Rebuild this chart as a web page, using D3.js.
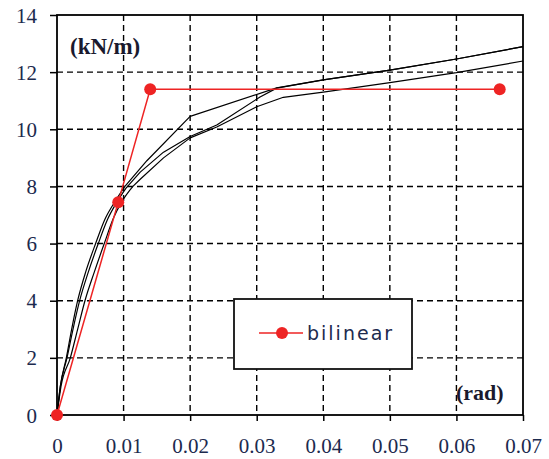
<!DOCTYPE html>
<html>
<head>
<meta charset="utf-8">
<script src="https://cdn.jsdelivr.net/npm/d3@7/dist/d3.min.js"></script>
<style>
html,body{margin:0;padding:0;background:#fff;}
svg{display:block;}
</style>
</head>
<body>
<div id="chart"></div>
<script>
// ---- data ----
const xTicks = [0, 0.01, 0.02, 0.03, 0.04, 0.05, 0.06, 0.07];
const xTickLabels = ["0", "0.01", "0.02", "0.03", "0.04", "0.05", "0.06", "0.07"];
const yTicks = [0, 2, 4, 6, 8, 10, 12, 14];
const yTickLabels = ["0", "2", "4", "6", "8", "10", "12", "14"];

const curveA = [[0,0],[0.0005,1],[0.0014,2],[0.0022,3],[0.0031,4],[0.0043,5],[0.0058,6],[0.0072,6.85],[0.0088,7.5],[0.0102,8.0],[0.0135,8.9],[0.02,10.45],[0.033,11.45],[0.04,11.73],[0.05,12.07],[0.06,12.46],[0.07,12.89]];
const curveB = [[0,0],[0.0005,1],[0.0015,2],[0.0024,3],[0.0034,4],[0.0047,5],[0.0062,6],[0.0076,6.85],[0.009,7.45],[0.0104,7.95],[0.0125,8.5],[0.016,9.2],[0.02,9.75],[0.024,10.15],[0.0305,11.13],[0.033,11.44],[0.04,11.73],[0.05,12.07],[0.06,12.46],[0.07,12.89]];
const curveC = [[0,0],[0.0006,1],[0.002,2],[0.0031,3],[0.0042,4],[0.0056,5],[0.0071,6],[0.0085,6.9],[0.0097,7.45],[0.0114,8.0],[0.0125,8.25],[0.016,9.0],[0.02,9.7],[0.024,10.08],[0.03,10.79],[0.034,11.12],[0.04,11.3],[0.05,11.63],[0.06,11.98],[0.07,12.39]];
const bilinear = [[0,0],[0.0092,7.45],[0.0140,11.4],[0.0665,11.4]];
const legendLabel = "bilinear";
const xUnit = "(rad)";
const yUnit = "(kN/m)";

// ---- layout ----
const W = 549, H = 459;
const m = {left:57, right:26, top:15, bottom:44};
const pw = W - m.left - m.right, ph = H - m.top - m.bottom;
const textColor = "#1c2a4e";
const smoothLimit = 0.0115; // curves are drawn smooth up to about this drift, straight after

const svg = d3.select("#chart").append("svg").attr("width", W).attr("height", H);
const g = svg.append("g").attr("transform", `translate(${m.left},${m.top})`);

const x = d3.scaleLinear().domain([0, 0.07]).range([0, pw]);
const y = d3.scaleLinear().domain([0, 14]).range([ph, 0]);

// grid
g.append("g").selectAll("line").data(xTicks.slice(1, -1)).join("line")
  .attr("x1", d => x(d)).attr("x2", d => x(d)).attr("y1", 0).attr("y2", ph)
  .attr("stroke", "#000").attr("stroke-width", 1.4).attr("stroke-dasharray", "6,4");
g.append("g").selectAll("line").data(yTicks.slice(1, -1)).join("line")
  .attr("x1", 0).attr("x2", pw).attr("y1", d => y(d)).attr("y2", d => y(d))
  .attr("stroke", "#000").attr("stroke-width", 1.4).attr("stroke-dasharray", "6,4");

// axes
const xAxis = d3.axisBottom(x).tickValues(xTicks).tickSize(6).tickFormat((d, i) => xTickLabels[i]);
const yAxis = d3.axisLeft(y).tickValues(yTicks).tickSize(7).tickFormat((d, i) => yTickLabels[i]);

const gx = g.append("g").attr("transform", `translate(0,${ph})`).call(xAxis);
const gy = g.append("g").call(yAxis);
[gx, gy].forEach(a => {
  a.select(".domain").remove();
  a.selectAll(".tick line").attr("stroke", "#000").attr("stroke-width", 1.5);
  a.selectAll(".tick text").attr("fill", textColor)
    .attr("font-family", "'Liberation Serif', 'Times New Roman', serif").attr("font-size", 21);
});
gx.selectAll(".tick text").attr("dy", 0).attr("y", 38);
gy.selectAll(".tick text").attr("x", -20).attr("dy", "0.34em");

// frame
g.append("rect").attr("x", 0).attr("y", 0).attr("width", pw).attr("height", ph)
  .attr("fill", "none").attr("stroke", "#000").attr("stroke-width", 1.8);

// curves
const line = d3.line().x(d => x(d[0])).y(d => y(d[1]));
const smooth = d3.line().x(d => x(d[0])).y(d => y(d[1])).curve(d3.curveMonotoneX);
[curveA, curveB, curveC].forEach(c => {
  const lower = c.filter(d => d[0] <= smoothLimit);
  const last = lower[lower.length - 1];
  const upper = [last].concat(c.filter(d => d[0] > smoothLimit));
  const dStr = smooth(lower) + line(upper).replace(/^M/, "L");
  g.append("path").attr("d", dStr).attr("fill", "none")
    .attr("stroke", "#000").attr("stroke-width", 1.2).attr("stroke-linejoin", "round");
});

// bilinear
const red = "#ee2424";
g.append("path").datum(bilinear).attr("d", line).attr("fill", "none")
  .attr("stroke", red).attr("stroke-width", 1.5);
g.selectAll("circle.bl").data(bilinear).join("circle").attr("class", "bl")
  .attr("cx", d => x(d[0])).attr("cy", d => y(d[1])).attr("r", 6).attr("fill", red);

// unit labels
g.append("text").attr("x", 13).attr("y", 39).text(yUnit)
  .attr("font-family", "'Liberation Serif', 'Times New Roman', serif").attr("font-weight", "bold")
  .attr("font-size", 23).attr("fill", "#1a1a2e");
g.append("text").attr("x", 399).attr("y", 385).text(xUnit)
  .attr("font-family", "'Liberation Serif', 'Times New Roman', serif").attr("font-weight", "bold")
  .attr("font-size", 22).attr("fill", "#1a1a2e");

// legend
const lg = svg.append("g");
lg.append("rect").attr("x", 234).attr("y", 299).attr("width", 178).attr("height", 70)
  .attr("fill", "#fff").attr("stroke", "#111").attr("stroke-width", 1.8);
lg.append("line").attr("x1", 259).attr("x2", 303).attr("y1", 333).attr("y2", 333)
  .attr("stroke", red).attr("stroke-width", 1.5);
lg.append("circle").attr("cx", 282).attr("cy", 333).attr("r", 6).attr("fill", red);
lg.append("text").attr("x", 307).attr("y", 340).text(legendLabel)
  .attr("font-family", "'DejaVu Sans', Verdana, sans-serif").attr("font-size", 19)
  .attr("letter-spacing", 2).attr("fill", textColor);
</script>
</body>
</html>
